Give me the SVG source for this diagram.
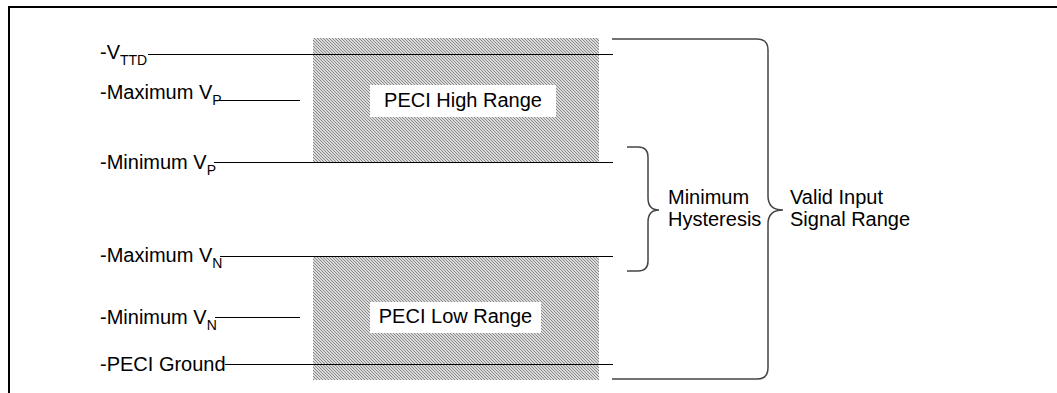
<svg xmlns="http://www.w3.org/2000/svg" width="1057" height="393" viewBox="0 0 1057 393">
<style>
text{font-family:"Liberation Sans",Arial,sans-serif;fill:#000}
.lbl{font-size:20px}
.sub{font-size:14px}
.ln{stroke:#000;stroke-width:1;fill:none}
.brace{stroke:#444;stroke-width:1.5;fill:none}
</style>
<defs>
<pattern id="hatch" patternUnits="userSpaceOnUse" width="3" height="3">
<rect width="3" height="3" fill="#dadada"/>
<path d="M-1,-1 L4,4 M-1,2 L1,4 M2,-1 L4,1" stroke="#8a8a8a" stroke-width="1"/>
</pattern>
</defs>
<rect width="1057" height="393" fill="#fff"/>
<g id="frame">
<path d="M9,393 V7 H1057" stroke="#000" stroke-width="2" fill="none"/>
</g>
<g id="high-range">
<rect x="313" y="38" width="286" height="125" fill="url(#hatch)"/>
<rect x="370" y="85" width="186" height="32" fill="#fff"/>
<text class="lbl" x="463" y="107" text-anchor="middle">PECI High Range</text>
</g>
<g id="low-range">
<rect x="313" y="256" width="286" height="124" fill="url(#hatch)"/>
<rect x="370" y="302" width="171" height="31" fill="#fff"/>
<text class="lbl" x="455.5" y="323" text-anchor="middle">PECI Low Range</text>
</g>
<g id="connectors">
<line class="ln" x1="148" y1="54.5" x2="613" y2="54.5"/>
<line class="ln" x1="217" y1="100.5" x2="300" y2="100.5"/>
<line class="ln" x1="214" y1="162.5" x2="613" y2="162.5"/>
<line class="ln" x1="220" y1="256.5" x2="613" y2="256.5"/>
<line class="ln" x1="215" y1="317.5" x2="300" y2="317.5"/>
<line class="ln" x1="225" y1="364.5" x2="613" y2="364.5"/>
<path class="brace" d="M627,147 H638 Q648,147 648,157 V198 Q648,210 659,210 Q648,210 648,222 V261 Q648,271 638,271 H627"/>
<path class="brace" d="M612,39 H757 Q768,39 768,50 V196 Q768,210 783,210 Q768,210 768,224 V368 Q768,379 757,379 H612"/>
</g>
<g id="vttd"><text class="lbl" x="100" y="59">-V<tspan class="sub" dy="6">TTD</tspan></text></g>
<g id="max-vp"><text class="lbl" x="100" y="99">-Maximum V<tspan class="sub" dy="6">P</tspan></text></g>
<g id="min-vp"><text class="lbl" x="100" y="169">-Minimum V<tspan class="sub" dy="6">P</tspan></text></g>
<g id="max-vn"><text class="lbl" x="100" y="262">-Maximum V<tspan class="sub" dy="6">N</tspan></text></g>
<g id="min-vn"><text class="lbl" x="100" y="324">-Minimum V<tspan class="sub" dy="6">N</tspan></text></g>
<g id="ground"><text class="lbl" x="100" y="371">-PECI Ground</text></g>
<g id="min-hyst">
<text class="lbl" x="668" y="204">Minimum</text>
<text class="lbl" x="668" y="226">Hysteresis</text>
</g>
<g id="valid-range">
<text class="lbl" x="790" y="204">Valid Input</text>
<text class="lbl" x="790" y="226">Signal Range</text>
</g>
</svg>
